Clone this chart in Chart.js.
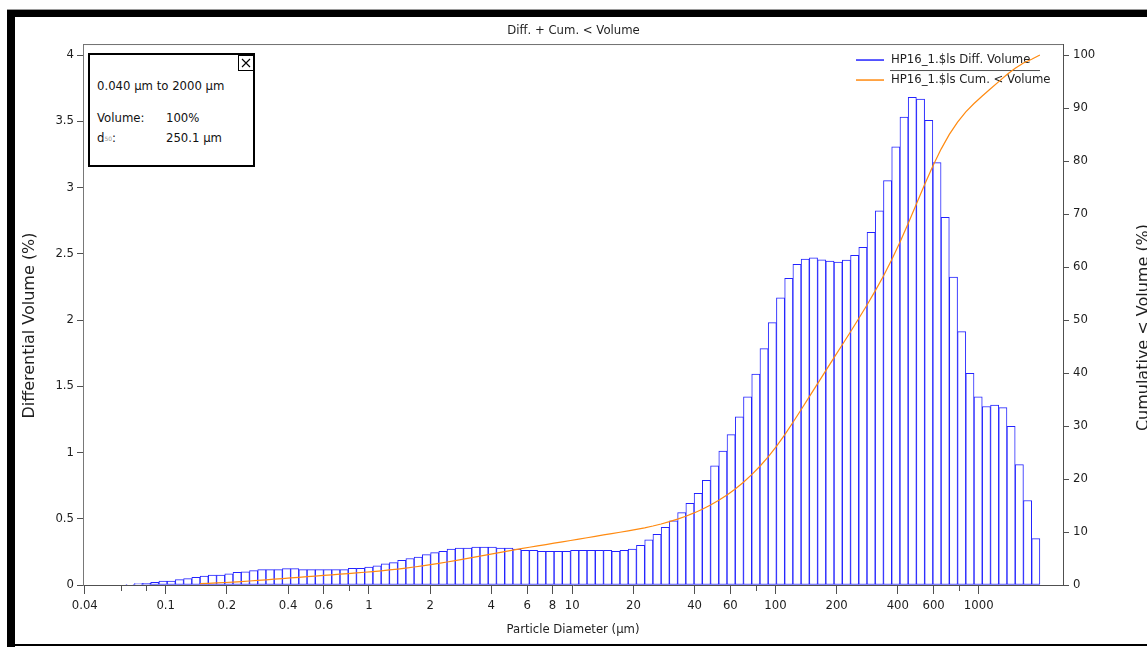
<!DOCTYPE html>
<html>
<head>
<meta charset="utf-8">
<script src="https://cdn.jsdelivr.net/npm/chart.js@4.4.0/dist/chart.umd.min.js"></script>
<style>
html,body{margin:0;padding:0;background:#fff;width:1147px;height:647px;overflow:hidden;}
#wrap{position:relative;width:1147px;height:647px;background:#fff;}
#c{position:absolute;left:0;top:0;}
.blk{position:absolute;background:#000;}
#topline{position:absolute;left:7px;top:9px;width:1140px;height:1px;background:#9a9a9a;}
#info{position:absolute;left:88px;top:53px;width:163px;height:110px;border:2px solid #000;background:#fff;
  font-family:'DejaVu Sans',sans-serif;font-size:11.7px;color:#111;}
#info div{position:absolute;line-height:14px;white-space:nowrap;}
#info sub{font-size:6px;color:#999;vertical-align:1px;}
#close{position:absolute;left:148px;top:0px;width:14px;height:14px;border:1px solid #000;background:#fff;}
</style>
</head>
<body>
<div id="wrap">
  <canvas id="c" width="1147" height="647" style="width:1147px;height:647px"></canvas>
  <div id="topline"></div>
  <div class="blk" style="left:7px;top:10px;width:1140px;height:7px"></div>
  <div class="blk" style="left:7px;top:10px;width:8px;height:637px"></div>
  <div class="blk" style="left:7px;top:644px;width:1140px;height:2px"></div>
  <div id="info">
    <div style="left:7px;top:24px">0.040 µm to 2000 µm</div>
    <div style="left:7px;top:56px">Volume:</div>
    <div style="left:76px;top:56px">100%</div>
    <div style="left:7px;top:76px">d<sub>50</sub>:</div>
    <div style="left:76px;top:76px">250.1 µm</div>
    <div id="close"><svg width="14" height="14" viewBox="0 0 14 14"><path d="M3 3 L11 11 M11 3 L3 11" stroke="#000" stroke-width="1.1" fill="none"/></svg></div>
  </div>
</div>
<script>
// ---- data ----
const chartTitle = 'Diff. + Cum. < Volume';
const xAxisTitle = 'Particle Diameter (µm)';
const yAxisTitle = 'Differential Volume (%)';
const y2AxisTitle = 'Cumulative < Volume (%)';
const diffLabel = 'HP16_1.$ls Diff. Volume';
const cumLabel = 'HP16_1.$ls Cum. < Volume';

// channel (bin) edges in µm, 116 channels
const channelEdges = [
  0.04, 0.04391, 0.0482, 0.05292, 0.05809, 0.06377, 0.07, 0.07685, 0.08436, 0.09261,
  0.1017, 0.1116, 0.1225, 0.1345, 0.1476, 0.1621, 0.1779, 0.1953, 0.2144, 0.2354,
  0.2584, 0.2837, 0.3114, 0.3419, 0.3753, 0.4117, 0.4519, 0.4961, 0.5446, 0.5978,
  0.6563, 0.7204, 0.7909, 0.8682, 0.9531, 1.046, 1.149, 1.261, 1.384, 1.52,
  1.668, 1.831, 2.01, 2.207, 2.423, 2.659, 2.919, 3.205, 3.518, 3.862,
  4.24, 4.654, 5.109, 5.609, 6.157, 6.759, 7.42, 8.145, 8.941, 9.816,
  10.78, 11.83, 12.99, 14.26, 15.65, 17.18, 18.86, 20.7, 22.73, 24.95,
  27.39, 30.07, 33.0, 36.23, 39.77, 43.66, 47.93, 52.62, 57.76, 63.41,
  69.61, 76.41, 83.88, 92.08, 101.1, 111.0, 121.8, 133.7, 146.8, 161.2,
  176.9, 194.2, 213.2, 234.1, 256.9, 282.1, 309.6, 339.9, 373.1, 409.6,
  449.7, 493.6, 541.9, 594.9, 653.0, 716.9, 786.9, 863.9, 948.3, 1041,
  1143, 1255, 1377, 1512, 1660, 1822, 2000
];

// differential volume (%) per channel
const diffVolume = [
  0, 0, 0, 0, 0,
  0.005, 0.010, 0.012, 0.020, 0.030,
  0.030, 0.040, 0.048, 0.058, 0.068,
  0.075, 0.075, 0.085, 0.096, 0.100,
  0.108, 0.116, 0.116, 0.116, 0.123,
  0.123, 0.116, 0.116, 0.116, 0.116,
  0.116, 0.116, 0.126, 0.126, 0.136,
  0.145, 0.159, 0.169, 0.186, 0.200,
  0.211, 0.229, 0.244, 0.254, 0.272,
  0.279, 0.279, 0.287, 0.287, 0.287,
  0.279, 0.279, 0.272, 0.262, 0.262,
  0.254, 0.254, 0.254, 0.254, 0.262,
  0.262, 0.262, 0.262, 0.262, 0.254,
  0.262, 0.272, 0.300, 0.340, 0.383,
  0.435, 0.485, 0.546, 0.617, 0.692,
  0.790, 0.900, 1.011, 1.135, 1.270,
  1.421, 1.592, 1.784, 1.980, 2.168,
  2.314, 2.420, 2.460, 2.470, 2.455,
  2.445, 2.438, 2.453, 2.488, 2.548,
  2.662, 2.825, 3.052, 3.308, 3.532,
  3.680, 3.668, 3.507, 3.188, 2.775,
  2.325, 1.912, 1.597, 1.420, 1.347,
  1.358, 1.339, 1.198, 0.908, 0.638,
  0.350
];

// cumulative < volume (%) at each channel edge
const cumVolume = [
  0, 0, 0, 0, 0, 0, 0.005, 0.015, 0.027, 0.047,
  0.077, 0.107, 0.147, 0.195, 0.253, 0.321, 0.396, 0.471, 0.556, 0.652,
  0.752, 0.86, 0.976, 1.092, 1.208, 1.331, 1.454, 1.57, 1.686, 1.802,
  1.918, 2.034, 2.15, 2.276, 2.402, 2.538, 2.683, 2.842, 3.011, 3.197,
  3.397, 3.608, 3.837, 4.081, 4.335, 4.607, 4.886, 5.165, 5.452, 5.739,
  6.026, 6.305, 6.584, 6.856, 7.118, 7.38, 7.634, 7.888, 8.142, 8.396,
  8.658, 8.92, 9.182, 9.444, 9.706, 9.96, 10.222, 10.494, 10.794, 11.134,
  11.517, 11.952, 12.437, 12.983, 13.6, 14.292, 15.082, 15.982, 16.993, 18.128,
  19.398, 20.819, 22.411, 24.195, 26.175, 28.343, 30.657, 33.077, 35.537, 38.007,
  40.462, 42.907, 45.345, 47.798, 50.286, 52.834, 55.496, 58.321, 61.373, 64.681,
  68.213, 71.893, 75.561, 79.068, 82.256, 85.031, 87.356, 89.268, 90.865, 92.285,
  93.632, 94.99, 96.329, 97.527, 98.5, 99.2, 100
];

const xTickValues = [0.04, 0.1, 0.2, 0.4, 0.6, 1, 2, 4, 6, 8, 10, 20, 40, 60, 100, 200, 400, 600, 1000];
const xTickLabels = ['0.04', '0.1', '0.2', '0.4', '0.6', '1', '2', '4', '6', '8', '10', '20', '40', '60', '100', '200', '400', '600', '1000'];
const xMinorTickValues = [0.06, 0.08, 0.8, 80, 800];
const yTickValues = [0, 0.5, 1, 1.5, 2, 2.5, 3, 3.5, 4];
const yTickLabels = ['0', '0.5', '1', '1.5', '2', '2.5', '3', '3.5', '4'];
const y2TickValues = [0, 10, 20, 30, 40, 50, 60, 70, 80, 90, 100];
const y2TickLabels = ['0', '10', '20', '30', '40', '50', '60', '70', '80', '90', '100'];

// ---- build chart data ----
const barPoints = [];
diffVolume.forEach((v, i) => {
  if (v > 0) barPoints.push({ x: Math.sqrt(channelEdges[i] * channelEdges[i + 1]), y: v });
});
// the curve becomes visible above the axis from ~0.15 µm on
const cumPoints = [];
cumVolume.forEach((v, i) => { if (v >= 0.25) cumPoints.push({ x: channelEdges[i], y: v }); });

const FONT = "'DejaVu Sans', 'Verdana', sans-serif";
const FS = 11.7;
const TXT = '#1e1e1e';
const AX = '#505050';
const BLUE = '#2323ff';
const ORANGE = '#ff8a10';

Chart.defaults.font.family = FONT;
Chart.defaults.font.size = FS;
Chart.defaults.color = TXT;

const overlayPlugin = {
  id: 'overlay',
  beforeDatasetsDraw(chart) {
    const { ctx, chartArea: a } = chart;
    ctx.save();
    // plot frame top line
    ctx.strokeStyle = '#707070';
    ctx.lineWidth = 1;
    ctx.beginPath();
    ctx.moveTo(a.left, a.top + 0.5);
    ctx.lineTo(a.right, a.top + 0.5);
    ctx.stroke();
    // legend (drawn from datasets)
    const ds = chart.data.datasets;
    const items = [ds[1], ds[0]];
    const lx = a.right - 207, tx = a.right - 172;
    const ys = [a.top + 16, a.top + 36];
    ctx.font = FS + 'px ' + FONT;
    ctx.textBaseline = 'middle';
    ctx.textAlign = 'left';
    items.forEach((d, i) => {
      ctx.strokeStyle = d.borderColor;
      ctx.lineWidth = 1.5;
      ctx.beginPath();
      ctx.moveTo(lx, ys[i]);
      ctx.lineTo(lx + 28, ys[i]);
      ctx.stroke();
      ctx.fillStyle = TXT;
      ctx.fillText(d.label, tx, ys[i]);
    });
    ctx.strokeStyle = '#505050';
    ctx.lineWidth = 1;
    ctx.beginPath();
    ctx.moveTo(tx - 1, a.top + 26.5);
    ctx.lineTo(a.right - 23, a.top + 26.5);
    ctx.stroke();
    ctx.restore();
  },
  afterDraw(chart) {
    const { ctx, chartArea: a, scales } = chart;
    ctx.save();
    // minor x ticks
    ctx.strokeStyle = AX;
    ctx.lineWidth = 1;
    xMinorTickValues.forEach(v => {
      const px = Math.round(scales.x.getPixelForValue(v)) + 0.5;
      ctx.beginPath();
      ctx.moveTo(px, a.bottom);
      ctx.lineTo(px, a.bottom + 6);
      ctx.stroke();
    });
    // y axis titles (rotated, reading upward)
    ctx.fillStyle = TXT;
    ctx.font = '16px ' + FONT;
    ctx.textAlign = 'center';
    ctx.textBaseline = 'middle';
    const midY = (a.top + a.bottom) / 2 + 11;
    ctx.save();
    ctx.translate(30, midY);
    ctx.rotate(-Math.PI / 2);
    ctx.fillText(scales.y.options.title.text, 0, 0);
    ctx.restore();
    ctx.save();
    ctx.translate(1144, midY + 2);
    ctx.rotate(-Math.PI / 2);
    ctx.fillText(scales.y2.options.title.text, 0, 0);
    ctx.restore();
    ctx.restore();
  }
};

new Chart(document.getElementById('c'), {
  type: 'bar',
  data: {
    datasets: [
      {
        type: 'line',
        label: cumLabel,
        data: cumPoints,
        xAxisID: 'x',
        yAxisID: 'y2',
        borderColor: ORANGE,
        borderWidth: 1.2,
        pointRadius: 0,
        tension: 0,
        fill: false,
        order: 0
      },
      {
        type: 'bar',
        label: diffLabel,
        data: barPoints,
        xAxisID: 'x',
        yAxisID: 'y',
        backgroundColor: '#ffffff',
        borderColor: BLUE,
        borderWidth: 1,
        borderSkipped: false,
        barPercentage: 1,
        categoryPercentage: 1,
        order: 1
      }
    ]
  },
  options: {
    responsive: false,
    animation: false,
    devicePixelRatio: 1,
    layout: { padding: 0 },
    plugins: {
      legend: { display: false },
      tooltip: { enabled: false },
      title: {
        display: true,
        text: chartTitle,
        color: TXT,
        font: { size: FS, weight: 'normal', family: FONT },
        padding: { top: 24, bottom: 6 }
      }
    },
    scales: {
      x: {
        type: 'logarithmic',
        position: 'bottom',
        min: 0.0392,
        max: 2598,
        offset: false,
        bounds: 'data',
        afterBuildTicks: (s) => { s.ticks = xTickValues.map(v => ({ value: v, major: false })); },
        afterFit: (s) => { s.height = 62; },
        grid: { display: true, drawOnChartArea: false, drawTicks: true, tickLength: 9, color: AX, offset: false },
        border: { display: true, color: AX, width: 1 },
        ticks: {
          autoSkip: false, maxRotation: 0, minRotation: 0, padding: 5, color: TXT,
          font: { size: FS, family: FONT },
          callback: (v, i) => xTickLabels[i]
        },
        title: {
          display: true, text: xAxisTitle, color: TXT,
          font: { size: FS, family: FONT },
          padding: { top: 0, bottom: 10 }
        }
      },
      y: {
        type: 'linear',
        position: 'left',
        min: 0,
        max: 4.083,
        afterBuildTicks: (s) => { s.ticks = yTickValues.map(v => ({ value: v })); },
        afterFit: (s) => { s.width = 83; },
        grid: { display: true, drawOnChartArea: false, tickLength: 6, color: AX },
        border: { display: true, color: '#787878', width: 1 },
        ticks: { padding: 3, color: TXT, font: { size: FS, family: FONT }, callback: (v, i) => yTickLabels[i] },
        title: { display: false, text: yAxisTitle }
      },
      y2: {
        type: 'linear',
        position: 'right',
        min: 0,
        max: 102.08,
        afterBuildTicks: (s) => { s.ticks = y2TickValues.map(v => ({ value: v })); },
        afterFit: (s) => { s.width = 84; },
        grid: { display: true, drawOnChartArea: false, tickLength: 6, color: AX },
        border: { display: true, color: AX, width: 1 },
        ticks: { padding: 4, color: TXT, font: { size: FS, family: FONT }, callback: (v, i) => y2TickLabels[i] },
        title: { display: false, text: y2AxisTitle }
      }
    }
  },
  plugins: [overlayPlugin]
});
</script>
</body>
</html>
